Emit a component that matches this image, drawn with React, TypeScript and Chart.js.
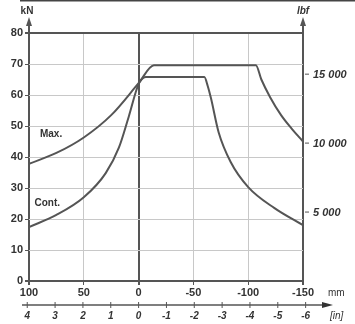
import React, { useEffect, useRef } from "react";
import { Chart, registerables } from "chart.js";

Chart.register(...registerables);

const maxMm = [100, 75, 50, 25, 0, -14, -107, -112, -120, -130, -140, -150];
const maxKn = [37.8, 41.3, 46.3, 53.5, 63.8, 69.6, 69.6, 65, 59.3, 53.5, 49, 45];
const contMm = [100, 75, 50, 30, 18, 9, 0, -6.5, -60, -63, -66, -73, -84, -100, -124, -150];
const contKn = [17.4, 21.3, 27, 34.8, 43, 53, 63.5, 65.8, 65.8, 63, 59, 48, 38.4, 30.3, 23.5, 18];
const lbfTicks = [5000, 10000, 15000];
const lbfLabels = ["5 000", "10 000", "15 000"];
const inchTicks = [4, 3, 2, 1, 0, -1, -2, -3, -4, -5, -6];
const KN_TO_LBF = 224.809;

const FONT = "'Liberation Sans', Arial, sans-serif";
const DARK = "#555";
const TEXT = "#333";
const LIGHT = "#c8c8c8";

const overlay = {
  id: "overlay",
  afterDraw(chart: any) {
    const { ctx, chartArea, scales } = chart;
    const x = scales.x;
    const y = scales.y;
    const { left, right, top, bottom } = chartArea;
    ctx.save();
    // top border
    ctx.fillStyle = "#444";
    ctx.fillRect(20, 0, chart.width, 1.5);

    ctx.strokeStyle = DARK;
    ctx.fillStyle = DARK;
    ctx.lineWidth = 2;
    // vertical axis arrows
    for (const ax of [left, right]) {
      ctx.beginPath();
      ctx.moveTo(ax, top);
      ctx.lineTo(ax, top - 10);
      ctx.stroke();
      ctx.beginPath();
      ctx.moveTo(ax, top - 16);
      ctx.lineTo(ax - 3, top - 7);
      ctx.lineTo(ax + 3, top - 7);
      ctx.closePath();
      ctx.fill();
    }
    ctx.fillStyle = TEXT;
    ctx.textAlign = "center";
    ctx.textBaseline = "middle";
    ctx.font = `bold 10px ${FONT}`;
    ctx.fillText("kN", left - 2, top - 22);
    ctx.font = `italic bold 10px ${FONT}`;
    ctx.fillText("lbf", right, top - 22);

    // right lbf axis
    ctx.textAlign = "left";
    ctx.lineWidth = 1;
    ctx.strokeStyle = DARK;
    ctx.font = `italic bold 11px ${FONT}`;
    lbfTicks.forEach((v, i) => {
      const py = y.getPixelForValue(v / KN_TO_LBF);
      ctx.beginPath();
      ctx.moveTo(right + 2, py);
      ctx.lineTo(right + 6, py);
      ctx.stroke();
      ctx.fillText(lbfLabels[i], right + 10, py + 1);
    });

    // inch axis
    const iy = bottom + 24;
    ctx.textAlign = "center";
    ctx.strokeStyle = DARK;
    ctx.lineWidth = 1.5;
    ctx.beginPath();
    ctx.moveTo(left - 7, iy);
    ctx.lineTo(right + 22, iy);
    ctx.stroke();
    ctx.fillStyle = "#333";
    ctx.beginPath();
    ctx.moveTo(right + 30, iy);
    ctx.lineTo(right + 19, iy - 3);
    ctx.lineTo(right + 19, iy + 3);
    ctx.closePath();
    ctx.fill();
    ctx.lineWidth = 1;
    ctx.font = `italic bold 10px ${FONT}`;
    ctx.fillStyle = TEXT;
    for (const t of inchTicks) {
      const px = x.getPixelForValue(t * 25.4);
      ctx.beginPath();
      ctx.moveTo(px, iy - 3);
      ctx.lineTo(px, iy + 3);
      ctx.stroke();
      ctx.fillText(String(t), px, iy + 11);
    }
    ctx.textAlign = "left";
    ctx.font = `10px ${FONT}`;
    ctx.fillText("mm", right + 25, bottom + 12);
    ctx.font = `italic 10px ${FONT}`;
    ctx.fillText("[in]", right + 27, iy + 11);

    // curve labels
    ctx.font = `bold 10px ${FONT}`;
    ctx.fillText("Max.", x.getPixelForValue(90), y.getPixelForValue(47.5));
    ctx.fillText("Cont.", x.getPixelForValue(95), y.getPixelForValue(25));
    ctx.restore();
  },
};

export default function App() {
  const ref = useRef<HTMLCanvasElement>(null);
  useEffect(() => {
    const chart = new Chart(ref.current as HTMLCanvasElement, {
      type: "line",
      data: {
        datasets: [
          {
            label: "Max.",
            data: maxMm.map((v, i) => ({ x: v, y: maxKn[i] })),
            borderColor: DARK,
            borderWidth: 2,
            pointRadius: 0,
            cubicInterpolationMode: "monotone",
            fill: false,
          },
          {
            label: "Cont.",
            data: contMm.map((v, i) => ({ x: v, y: contKn[i] })),
            borderColor: DARK,
            borderWidth: 2,
            pointRadius: 0,
            cubicInterpolationMode: "monotone",
            fill: false,
          },
        ],
      },
      options: {
        responsive: false,
        animation: false,
        layout: { padding: { top: 33, left: 0, right: 52, bottom: 0 } },
        plugins: { legend: { display: false }, tooltip: { enabled: false } },
        scales: {
          x: {
            type: "linear",
            min: -150,
            max: 100,
            reverse: true,
            afterFit: (s: any) => {
              s.height = 43;
            },
            border: { display: false },
            grid: {
              color: (c: any) => ([100, 0, -150].includes(c.tick?.value) ? DARK : LIGHT),
              lineWidth: (c: any) => ([100, 0, -150].includes(c.tick?.value) ? 2 : 1),
              tickColor: DARK,
              tickLength: 4,
            },
            ticks: {
              stepSize: 50,
              color: TEXT,
              font: { family: FONT, size: 11, weight: "bold" },
              padding: 1,
              maxRotation: 0,
            },
          },
          y: {
            type: "linear",
            position: "left",
            min: 0,
            max: 80,
            afterFit: (s: any) => {
              s.width = 29;
            },
            border: { display: false },
            grid: {
              color: (c: any) => ([0, 80].includes(c.tick?.value) ? DARK : LIGHT),
              lineWidth: (c: any) => ([0, 80].includes(c.tick?.value) ? 2 : 1),
              tickColor: DARK,
              tickLength: 4,
            },
            ticks: {
              stepSize: 10,
              color: TEXT,
              font: { family: FONT, size: 11, weight: "bold" },
              padding: 2,
            },
          },
        },
      },
      plugins: [overlay],
    } as any);
    return () => chart.destroy();
  }, []);
  return (
    <div style={{ position: "absolute", left: 0, top: 0, background: "#fff" }}>
      <canvas ref={ref} width={355} height={324} style={{ display: "block" }} />
    </div>
  );
}
